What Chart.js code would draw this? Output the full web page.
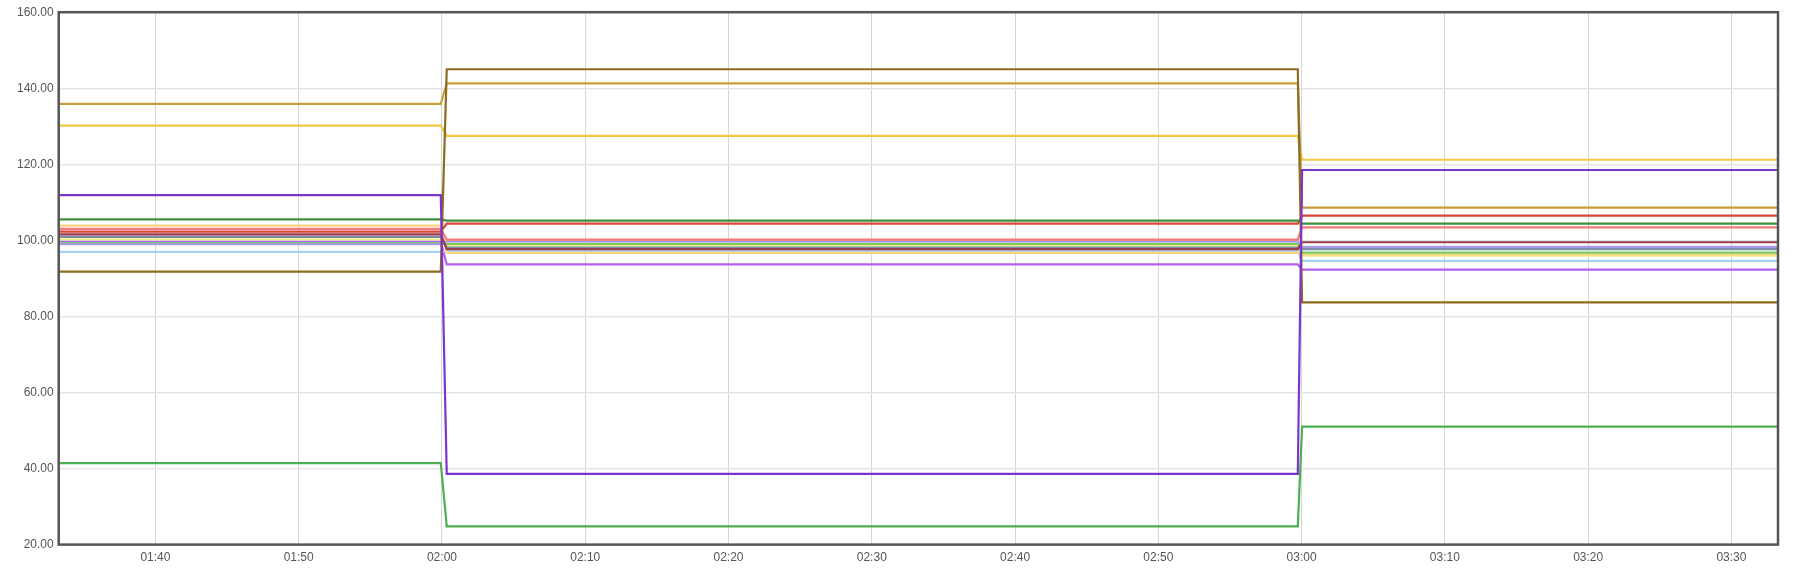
<!DOCTYPE html>
<html>
<head>
<meta charset="utf-8">
<script src="https://cdn.jsdelivr.net/npm/chart.js@4/dist/chart.umd.min.js"></script>
<style>
  html, body { margin: 0; padding: 0; background: #fff; }
  #wrap { width: 1793px; height: 573px; }
</style>
</head>
<body>
<div id="wrap"><canvas id="chart"></canvas></div>
<script>
// sample times (hh:mm:ss), every series shares them
const times = ['01:33:15', '01:59:55', '02:00:20', '02:59:44', '03:00:02', '03:33:15'];

// x tick labels
const xTickLabels = ['01:40', '01:50', '02:00', '02:10', '02:20', '02:30', '02:40', '02:50', '03:00', '03:10', '03:20', '03:30'];

// series values, one per sample time
const purple      = [111.9, 111.9, 38.6, 38.6, 118.5, 118.5];
const green       = [41.4, 41.4, 24.8, 24.8, 51.0, 51.0];
const olive       = [91.8, 91.8, 145.0, 145.0, 83.7, 83.7];
const gold        = [135.9, 135.9, 141.3, 141.3, 108.6, 108.6];
const yellow      = [130.2, 130.2, 127.5, 127.5, 121.2, 121.2];
const darkGreen   = [105.5, 105.5, 105.2, 105.2, 104.4, 104.4];
const red         = [102.3, 102.3, 104.4, 104.4, 106.5, 106.5];
const salmon      = [103.0, 103.0, 100.2, 100.2, 103.4, 103.4];
const maroon      = [101.6, 101.6, 97.7, 97.7, 99.5, 99.5];
const lavender    = [99.0, 99.0, 99.7, 99.7, 98.3, 98.3];
const blueGrey    = [100.9, 100.9, 98.1, 98.1, 97.7, 97.7];
const lightGreen  = [99.3, 99.3, 99.1, 99.1, 96.8, 96.8];
const paleOrange  = [103.9, 103.9, 96.7, 96.7, 96.3, 96.3];
const paleYellow  = [100.3, 100.3, 98.6, 98.6, 96.0, 96.0];
const lightBlue   = [97.0, 97.0, 97.2, 97.2, 94.6, 94.6];
const lightPurple = [99.6, 99.6, 93.7, 93.7, 92.3, 92.3];

const yTicks = [20, 40, 60, 80, 100, 120, 140, 160];

function toSec(t) {
	const p = t.split(':').map(Number);
	return p[0] * 3600 + p[1] * 60 + (p[2] || 0);
}

function fmt(sec) {
	const h = Math.floor(sec / 3600);
	const m = Math.floor((sec % 3600) / 60);
	return String(h).padStart(2, '0') + ':' + String(m).padStart(2, '0');
}

const xs = times.map(toSec);

function series(label, values, color) {
	return {
		label: label,
		data: values.map((v, i) => ({ x: xs[i], y: v })),
		borderColor: color,
		backgroundColor: color,
		borderWidth: 2.2,
		pointRadius: 0,
		tension: 0,
		fill: false,
	};
}

const frame = {
	id: 'frame',
	afterDatasetsDraw(chart) {
		const a = chart.chartArea;
		const c = chart.ctx;
		c.save();
		c.strokeStyle = '#555';
		c.lineWidth = 2.5;
		c.strokeRect(a.left, a.top, a.right - a.left, a.bottom - a.top);
		c.restore();
	}
};

const ctx = document.getElementById('chart').getContext('2d');
new Chart(ctx, {
	type: 'line',
	data: {
		datasets: [
			series('purple', purple, '#7b35c8'),
			series('green', green, '#4caf50'),
			series('olive', olive, '#8c6c1e'),
			series('gold', gold, '#c79f38'),
			series('yellow', yellow, '#f2c744'),
			series('darkGreen', darkGreen, '#3f8f3f'),
			series('red', red, '#d9443a'),
			series('salmon', salmon, '#f07a7a'),
			series('maroon', maroon, '#9c3c4c'),
			series('lavender', lavender, '#a99ae6'),
			series('blueGrey', blueGrey, '#7d8fa8'),
			series('lightGreen', lightGreen, '#79cc66'),
			series('paleOrange', paleOrange, '#fcd47c'),
			series('paleYellow', paleYellow, '#f3ee8c'),
			series('lightBlue', lightBlue, '#a8d2f5'),
			series('lightPurple', lightPurple, '#b45ff0'),
		]
	},
	options: {
		responsive: true,
		maintainAspectRatio: false,
		animation: false,
		layout: { padding: { left: 12, right: 15, top: 11, bottom: 2 } },
		plugins: {
			legend: { display: false },
			tooltip: { enabled: false },
		},
		scales: {
			x: {
				type: 'linear',
				min: xs[0],
				max: xs[xs.length - 1],
				afterBuildTicks: (scale) => {
					scale.ticks = xTickLabels.map(l => ({ value: toSec(l) }));
				},
				ticks: {
					autoSkip: false,
					maxRotation: 0,
					color: '#555',
					font: { family: 'Liberation Sans', size: 12 },
					padding: 6,
					callback: (v) => fmt(v),
				},
				grid: { color: '#d6d6d6', lineWidth: 1, drawTicks: false },
				border: { display: false },
			},
			y: {
				min: 20,
				max: 160,
				afterBuildTicks: (scale) => {
					scale.ticks = yTicks.map(v => ({ value: v }));
				},
				ticks: {
					color: '#555',
					font: { family: 'Liberation Sans', size: 12 },
					padding: 5,
					callback: (v) => v.toFixed(2),
				},
				grid: { color: '#e4e4e4', lineWidth: 1.5, drawTicks: false },
				border: { display: false },
			},
		},
	},
	plugins: [frame],
});
</script>
</body>
</html>
